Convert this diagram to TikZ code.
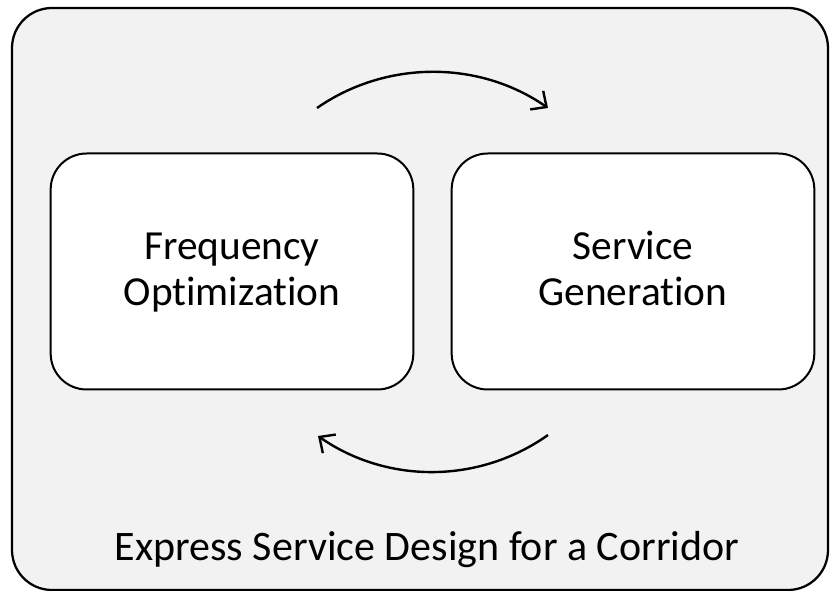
\documentclass[tikz,border=0pt]{standalone}
\usepackage{fontspec}
\setmainfont{Carlito}[Ligatures=NoCommon]
\usetikzlibrary{arrows.meta}
\definecolor{panelgray}{HTML}{F2F2F2}
\tikzset{
  panel/.style={draw=black, line width=1.7pt, fill=panelgray, rounded corners=30pt},
  stagebox/.style={draw=black, line width=1.5pt, fill=white, rounded corners=27pt,
    minimum width=272pt, minimum height=177pt},
  stagetext/.style={align=center, inner sep=0pt, font=\fontsize{31}{34.5}\selectfont},
  cycle arrow/.style={line width=1.8pt, -{Straight Barb[length=9pt, width=17pt, line width=1.8pt]}},
  caption/.style={font=\fontsize{31.5}{36}\selectfont}
}
\begin{document}
\begin{tikzpicture}[x=0.75pt, y=-0.75pt]
  \useasboundingbox (0,0) rectangle (840,591);
  % outer container
  \draw[panel] (12,8) rectangle (828,590);
  % the two stages
  \node[stagebox] (freq) at (232,271.5) {};
  \node[stagebox] (serv) at (633,271.5) {};
  \node[stagetext] (freqtext) at (232,273.8) {\strut Frequency\\\strut Optimization};
  \node[stagetext] (servtext) at (633,273.8) {\strut Service\\\strut Generation};
  % arc anchors above and below the stages
  \coordinate (topL) at (317,108);
  \coordinate (topR) at (548,108);
  \coordinate (botR) at (548,435);
  \coordinate (botL) at (318,436);
  \draw[cycle arrow] (topL) .. controls (386,60) and (479,60) .. (topR);
  \draw[cycle arrow] (botR) .. controls (479,484) and (387,484) .. (botL);
  % label
  \node[caption] (label) at (427,550) {Express Service Design for a Corridor};
\end{tikzpicture}
\end{document}
